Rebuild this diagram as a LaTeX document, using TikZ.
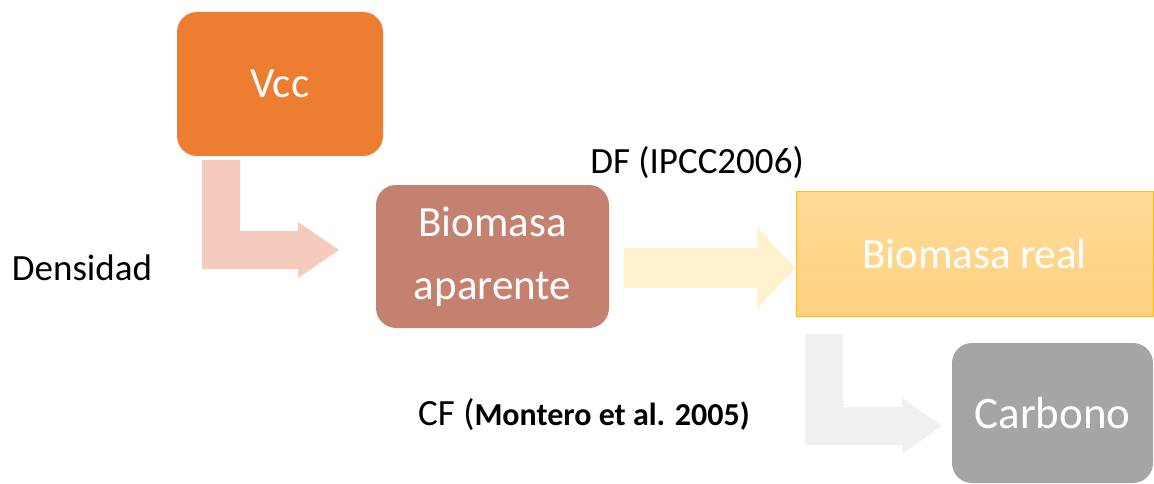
\documentclass[tikz,border=0pt]{standalone}
\usepackage{fontspec}
\setmainfont{Carlito}
\definecolor{vccfill}{HTML}{ED7D31}
\definecolor{arrowone}{HTML}{F5CBBD}
\definecolor{bapfill}{HTML}{C58170}
\definecolor{arrowtwo}{HTML}{FFF2CC}
\definecolor{brtop}{HTML}{FFDA9A}
\definecolor{brbot}{HTML}{FFD27F}
\definecolor{brline}{HTML}{FFC000}
\definecolor{arrowthree}{HTML}{F0F0F0}
\definecolor{carbfill}{HTML}{A5A5A5}
\tikzset{
  boxtext/.style={text=white, font=\fontsize{43}{63}\selectfont, inner sep=0pt, align=center},
  roundbox/.style={boxtext, rounded corners=20pt},
  labeltext/.style={text=black, font=\fontsize{37}{44}\selectfont, inner sep=0pt}
}
\begin{document}
\begin{tikzpicture}[x=1pt,y=-1pt]
\useasboundingbox (0,0) rectangle (1154,484);
% boxes
\node[roundbox, fill=vccfill, minimum width=206pt, minimum height=144pt] (vcc) at (280,84) {Vcc};
\node[roundbox, fill=bapfill, minimum width=233pt, minimum height=143pt] (bap) at (492.5,256.5) {Biomasa\\aparente};
\node[boxtext, top color=brtop, bottom color=brbot, draw=brline, line width=1pt, minimum width=357pt, minimum height=125pt] (breal) at (974.5,253.5) {Biomasa real};
\node[roundbox, fill=carbfill, minimum width=201pt, minimum height=140pt, font=\fontsize{45}{54}\selectfont] (carb) at (1052.5,413) {Carbono};
% arrows
\fill[arrowone] (202,160) -- (240,160) -- (240,231) -- (298,231) -- (298,222) -- (339,250) -- (298,278) -- (298,269) -- (202,269) -- cycle;
\fill[arrowtwo] (624,248) -- (757,248) -- (757,227) -- (795,268) -- (757,309) -- (757,288) -- (624,288) -- cycle;
\fill[arrowthree] (805,334) -- (843,334) -- (843,407) -- (902,407) -- (902,398) -- (942,426) -- (902,454) -- (902,445) -- (805,445) -- cycle;
% labels
\node[labeltext] (dens) at (82,268) {Densidad};
\node[labeltext] (df) at (697,163) {DF (IPCC2006)};
\node[labeltext, anchor=west] (cf) at (418,415) {CF ({\bfseries\fontsize{32}{38}\selectfont Montero et al. 2005)}};
\end{tikzpicture}
\end{document}
